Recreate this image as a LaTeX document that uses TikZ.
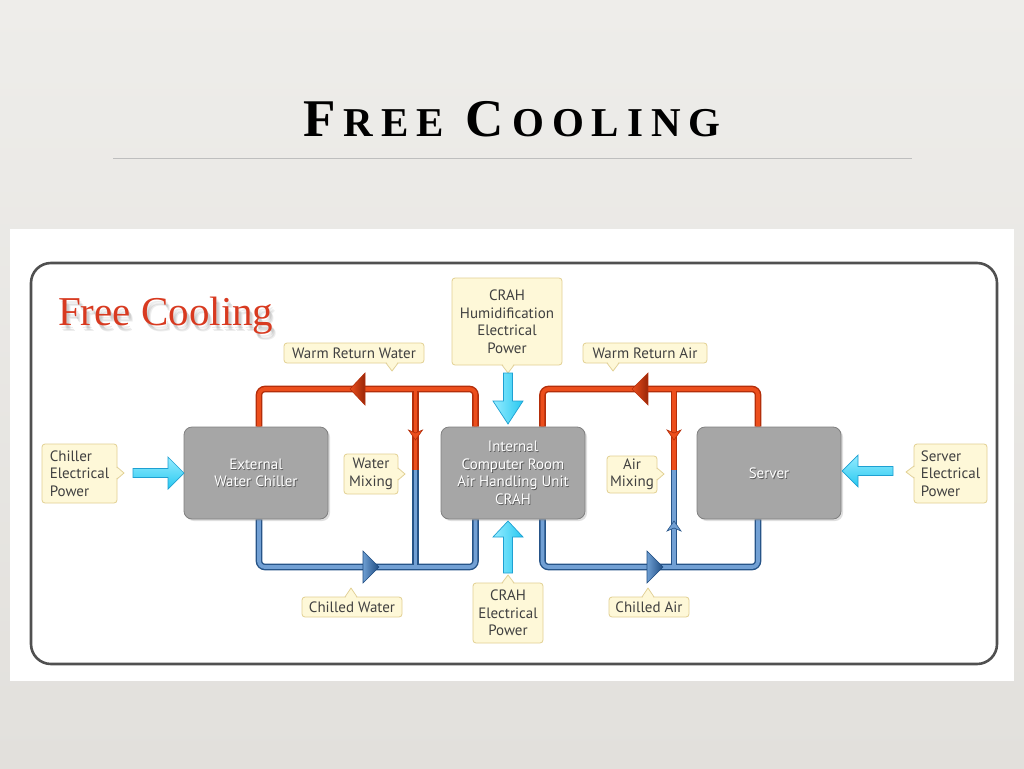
\documentclass[tikz,border=0pt]{standalone}
\usepackage{fontspec}
\setmainfont{Liberation Serif}
\newfontfamily\lblfont{PT Sans}
\usetikzlibrary{shadows,calc}
\pgfdeclarelayer{back}
\pgfdeclarelayer{bg}
\pgfsetlayers{back,bg,main}
\definecolor{slidetop}{RGB}{238,237,234}
\definecolor{slidebot}{RGB}{226,224,220}
\definecolor{frame}{RGB}{80,80,80}
\definecolor{rulegray}{RGB}{190,190,190}
\definecolor{unitfill}{RGB}{166,166,166}
\definecolor{unitedge}{RGB}{128,128,128}
\definecolor{cfill}{RGB}{254,248,216}
\definecolor{cedge}{RGB}{226,208,146}
\definecolor{ctext}{RGB}{64,64,64}
\definecolor{redF}{RGB}{236,78,28}
\definecolor{redE}{RGB}{180,46,10}
\definecolor{blueF}{RGB}{114,160,212}
\definecolor{blueE}{RGB}{38,84,136}
\definecolor{blueAL}{RGB}{110,158,210}
\definecolor{blueAD}{RGB}{30,76,130}
\definecolor{cyanL}{RGB}{150,236,255}
\definecolor{cyanM}{RGB}{38,200,240}
\definecolor{cyanE}{RGB}{30,160,210}
\definecolor{titlered}{RGB}{216,58,32}
\tikzset{
  unit/.style={rectangle, rounded corners=8pt, fill=unitfill, draw=unitedge, line width=0.8pt,
    minimum width=144pt, minimum height=92pt, inner sep=0pt,
    drop shadow={shadow xshift=2pt, shadow yshift=-2pt, opacity=0.25}},
  utext/.style={align=center, inner sep=0pt, text=white, font=\lblfont\fontsize{15}{17.5}\selectfont},
  utshadow/.style={utext, text=black!65, xshift=0.8pt, yshift=-0.8pt},
  callout/.style={rectangle, rounded corners=3pt, fill=cfill, draw=cedge, line width=0.8pt,
    inner sep=0pt, align=center, text=ctext, font=\lblfont\fontsize{15}{17.5}\selectfont},
  ptr/.style={draw=cedge, line width=0.8pt, line join=round},
  redout/.style={draw=redE, line width=6.6pt, rounded corners=6pt},
  redin/.style={draw=redF, line width=3.8pt, rounded corners=6pt},
  blueout/.style={draw=blueE, line width=6.6pt, rounded corners=6pt},
  bluein/.style={draw=blueF, line width=3.8pt, rounded corners=6pt},
  redhead/.style={draw=redE, line width=0.6pt, left color=redF, right color=redE!85!black},
  bluehead/.style={draw=blueAD, line width=0.6pt, left color=blueAL, right color=blueAD},
  powerh/.style={draw=cyanE, line width=0.7pt, top color=cyanL, bottom color=cyanM},
  powerv/.style={draw=cyanE, line width=0.7pt, left color=cyanL, right color=cyanM},
}
\begin{document}
\begin{tikzpicture}[x=1pt,y=-1pt]
\useasboundingbox (0,0) rectangle (1024,768);
\begin{pgfonlayer}{back}
\shade[top color=slidetop, bottom color=slidebot] (0,0) rectangle (1024,768);
\fill[white] (10,229) rectangle (1014,681);
\end{pgfonlayer}
% slide title
\node[anchor=base, inner sep=0pt, text=black] (title) at (512,136)
  {\bfseries{\fontsize{53}{53}\selectfont F}\kern8pt{\fontsize{41}{41}\selectfont R\kern8pt E\kern8pt E}\kern22pt{\fontsize{53}{53}\selectfont C}\kern8pt{\fontsize{41}{41}\selectfont O\kern8pt O\kern8pt L\kern8pt I\kern8pt N\kern8pt G}};
\draw[rulegray, line width=1pt] (113,158) -- (912,158);
% frame
\draw[frame, line width=2.6pt, rounded corners=20pt] (31,263) rectangle (997,664);
% diagram heading with soft shadow
\foreach \dx/\dy in {2/3,3/5,4/6}
  \node[anchor=base west, inner sep=0pt, text=black, opacity=0.07, font=\fontsize{41}{41}\selectfont] at (58+\dx,325+\dy) {Free Cooling};
\node[anchor=base west, inner sep=0pt, text=titlered, font=\fontsize{41}{41}\selectfont] (heading) at (58,325) {Free Cooling};

% units
\node[unit] (chiller) at (256,473) {};
\node[utshadow] at (chiller) {External\\Water Chiller};
\node[utext] (chillerlbl) at (chiller) {External\\Water Chiller};
\node[unit] (crah) at (513,473) {};
\node[utshadow] at (crah) {Internal\\Computer Room\\Air Handling Unit\\CRAH};
\node[utext] (crahlbl) at (crah) {Internal\\Computer Room\\Air Handling Unit\\CRAH};
\node[unit] (server) at (769,473) {};
\node[utshadow] at (server) {Server};
\node[utext] (serverlbl) at (server) {Server};

% pipe junction coordinates
\coordinate (wL) at (259,389);   \coordinate (wR) at (475.5,389);
\coordinate (wM) at (415.5,389); \coordinate (wMx) at (415.5,470);
\coordinate (cL) at (259,567);   \coordinate (cR) at (475.5,567);
\coordinate (cM) at (415.5,567);
\coordinate (aL) at (542.5,389); \coordinate (aR) at (758,389);
\coordinate (aM) at (674,389);   \coordinate (aMx) at (674,470);
\coordinate (bL) at (542.5,567); \coordinate (bR) at (758,567);
\coordinate (bM) at (674,567);

\begin{pgfonlayer}{bg}
  % outlines
  \draw[redout] (chiller.north -| wL) -- (wL) -- (wR) -- (crah.north -| wR);
  \draw[redout] (crah.north -| aL) -- (aL) -- (aR) -- (server.north -| aR);
  \draw[redout, rounded corners=0pt] (wM) -- (wMx);
  \draw[redout, rounded corners=0pt] (aM) -- (aMx);
  \draw[blueout] (chiller.south -| cL) -- (cL) -- (cR) -- (crah.south -| cR);
  \draw[blueout] (crah.south -| bL) -- (bL) -- (bR) -- (server.south -| bR);
  \draw[blueout, rounded corners=0pt] (wMx) -- (cM);
  \draw[blueout, rounded corners=0pt] (aMx) -- (bM);
  % fills
  \draw[redin] (chiller.north -| wL) -- (wL) -- (wR) -- (crah.north -| wR);
  \draw[redin] (crah.north -| aL) -- (aL) -- (aR) -- (server.north -| aR);
  \draw[redin, rounded corners=0pt] (wM) -- (wMx);
  \draw[redin, rounded corners=0pt] (aM) -- (aMx);
  \draw[bluein] (chiller.south -| cL) -- (cL) -- (cR) -- (crah.south -| cR);
  \draw[bluein] (crah.south -| bL) -- (bL) -- (bR) -- (server.south -| bR);
  \draw[bluein, rounded corners=0pt] (wMx) -- (cM);
  \draw[bluein, rounded corners=0pt] (aMx) -- (bM);
  % flow arrowheads
  \shade[redhead] (365,373) -- (350,389) -- (365,405) -- cycle;
  \shade[redhead] (648,373) -- (632,389) -- (648,405) -- cycle;
  \shade[bluehead] (363,551) -- (379,567) -- (363,583) -- cycle;
  \shade[bluehead] (647,551) -- (663,567) -- (647,583) -- cycle;
  \filldraw[fill=redF, draw=redE, line width=0.6pt] (408.5,430) -- (415.5,433) -- (422.5,430) -- (415.5,440) -- cycle;
  \filldraw[fill=redF, draw=redE, line width=0.6pt] (667,430) -- (674,433) -- (681,430) -- (674,440) -- cycle;
  \filldraw[fill=blueF, draw=blueE, line width=0.6pt] (667,531) -- (674,528) -- (681,531) -- (674,521) -- cycle;
\end{pgfonlayer}

% callouts
\node[callout, minimum width=140pt, minimum height=20pt] (wrw) at (354,353) {Warm Return Water};
\node[callout, minimum width=110pt, minimum height=87pt] (crahH) at (507,321.5) {CRAH\\Humidification\\Electrical\\Power};
\node[callout, minimum width=124pt, minimum height=20pt] (wra) at (645,353) {Warm Return Air};
\node[callout, minimum width=75pt, minimum height=59pt, align=left] (cep) at (79.5,473.5) {Chiller\\Electrical\\Power};
\node[callout, minimum width=54pt, minimum height=40pt] (wmix) at (371,474) {Water\\Mixing};
\node[callout, minimum width=50pt, minimum height=37pt] (amix) at (632,474.5) {Air\\Mixing};
\node[callout, minimum width=73pt, minimum height=59pt, align=left] (sep) at (950.5,473.5) {Server\\Electrical\\Power};
\node[callout, minimum width=100pt, minimum height=20pt] (cw) at (352,607) {Chilled Water};
\node[callout, minimum width=70pt, minimum height=60pt] (crahE) at (508,613) {CRAH\\Electrical\\Power};
\node[callout, minimum width=80pt, minimum height=20pt] (ca) at (649,607) {Chilled Air};

% callout pointers
% bottom pointers
\fill[cfill] (386,361) -- (398,361) -- (392,371) -- cycle; \draw[ptr] (386,363) -- (392,371) -- (398,363);
\fill[cfill] (502,363) -- (514,363) -- (508,373) -- cycle; \draw[ptr] (502,365) -- (508,373) -- (514,365);
\fill[cfill] (607,361) -- (619,361) -- (613,371) -- cycle; \draw[ptr] (607,363) -- (613,371) -- (619,363);
% right pointers
\fill[cfill] (115,467) -- (115,479) -- (124,473) -- cycle; \draw[ptr] (117,467) -- (124,473) -- (117,479);
\fill[cfill] (396,468) -- (396,480) -- (405,474) -- cycle; \draw[ptr] (398,468) -- (405,474) -- (398,480);
\fill[cfill] (655,468) -- (655,480) -- (664,474) -- cycle; \draw[ptr] (657,468) -- (664,474) -- (657,480);
% left pointer
\fill[cfill] (916,466) -- (916,478) -- (906,472) -- cycle; \draw[ptr] (914,466) -- (906,472) -- (914,478);
% top pointers
\fill[cfill] (345,599) -- (357,599) -- (351,588) -- cycle; \draw[ptr] (345,597) -- (351,588) -- (357,597);
\fill[cfill] (502,585) -- (514,585) -- (508,575) -- cycle; \draw[ptr] (502,583) -- (508,575) -- (514,583);
\fill[cfill] (642,599) -- (654,599) -- (648,588) -- cycle; \draw[ptr] (642,597) -- (648,588) -- (654,597);

% power arrows
\coordinate (pc) at (184,473);
\shade[powerh] (133,468.5) -- (168,468.5) -- (168,457) -- (pc) -- (168,489) -- (168,477.5) -- (133,477.5) -- cycle;
\coordinate (ps) at (842,471);
\shade[powerh] (893,466.5) -- (858,466.5) -- (858,455) -- (ps) -- (858,487) -- (858,475.5) -- (893,475.5) -- cycle;
\coordinate (pt) at (508,424);
\shade[powerv] (503.5,373) -- (503.5,401) -- (493,401) -- (pt) -- (523,401) -- (512.5,401) -- (512.5,373) -- cycle;
\coordinate (pb) at (508,521);
\shade[powerv] (503.5,573) -- (503.5,537) -- (493,537) -- (pb) -- (523,537) -- (512.5,537) -- (512.5,573) -- cycle;
\end{tikzpicture}
\end{document}
